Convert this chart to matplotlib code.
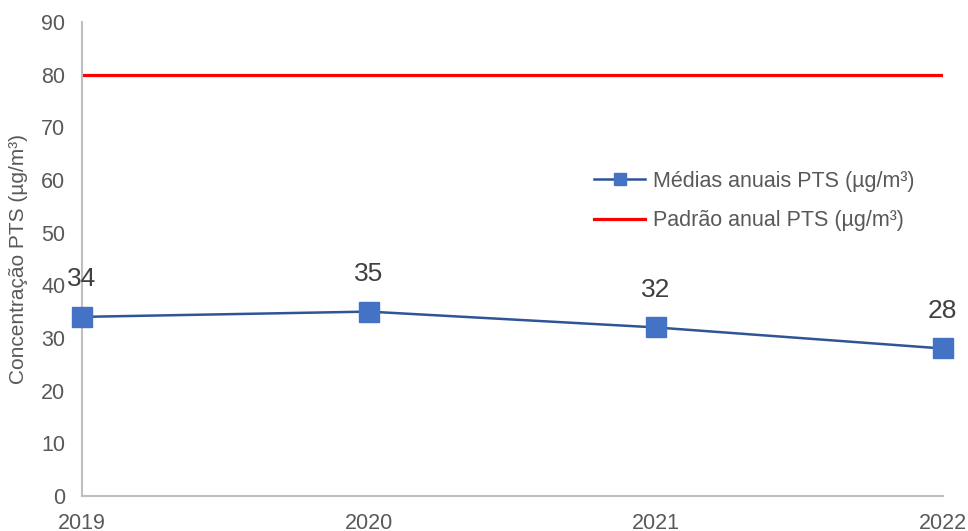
import matplotlib.pyplot as plt

plt.rcParams['font.family'] = ['Liberation Sans', 'DejaVu Sans']

anos = ['2019', '2020', '2021', '2022']
medias = [34, 35, 32, 28]
padrao = [80, 80, 80, 80]

fig = plt.figure(figsize=(9.68, 5.31), dpi=100)
ax = fig.add_axes([0.0847, 0.0659, 0.889, 0.893])

x = range(len(anos))
ax.plot(x, medias, color='#2F5597', lw=1.8, marker='s', markersize=15,
        markerfacecolor='#4472C4', markeredgecolor='#4472C4',
        label='Médias anuais PTS (µg/m³)', zorder=3, clip_on=False)
ax.plot(x, padrao, color='#FF0000', lw=2.3, label='Padrão anual PTS (µg/m³)')

for i, v in zip(x, medias):
    ax.annotate(str(v), (i, v), xytext=(0, 27), textcoords='offset points',
                ha='center', va='center', fontsize=19, color='#404040')

ax.set_xlim(0, len(anos) - 1)
ax.set_ylim(0, 90)
ax.set_yticks(range(0, 91, 10))
ax.set_xticks(list(x))
ax.set_xticklabels(anos)
ax.tick_params(axis='both', length=0, labelsize=15.5, labelcolor='#595959')
ax.tick_params(axis='x', pad=12)
ax.tick_params(axis='y', pad=12)

for s in ['top', 'right']:
    ax.spines[s].set_visible(False)
for s in ['left', 'bottom']:
    ax.spines[s].set_color('#BFBFBF')
    ax.spines[s].set_linewidth(1.5)

ax.set_ylabel('Concentração PTS (µg/m³)', fontsize=15, color='#595959', va='center')
ax.yaxis.set_label_coords(-0.074, 0.5)

ax.legend(loc='upper left', bbox_to_anchor=(0.5947, 0.6857), frameon=False,
          fontsize=15.5, labelcolor='#595959', handlelength=2.4,
          handletextpad=0.33, labelspacing=0.86, markerscale=0.6,
          borderpad=0, borderaxespad=0)

fig.savefig('out.png', dpi=100)
